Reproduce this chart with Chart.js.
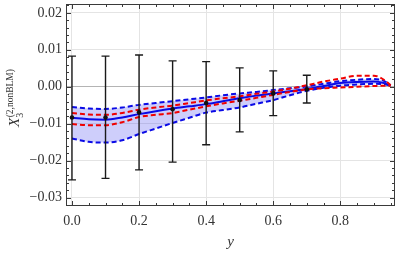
<!DOCTYPE html>
<html>
<head>
<meta charset="utf-8">
<script src="https://cdn.jsdelivr.net/npm/chart.js@4"></script>
<style>
html,body{margin:0;padding:0;background:#fff;}
canvas{display:block;}
</style>
</head>
<body>
<canvas id="c" width="399" height="256"></canvas>
<script>
// ---- data ----
const curveX      = [0, 0.05, 0.1, 0.15, 0.2, 0.25, 0.3, 0.35, 0.4, 0.45, 0.5, 0.55, 0.6, 0.65, 0.7, 0.75, 0.8, 0.85, 0.9, 0.93, 0.95];
const blueCentral = [-0.0084,-0.0088,-0.0089,-0.0083,-0.0074,-0.0066,-0.0059,-0.0053,-0.0047,-0.0039,-0.0031,-0.0024,-0.0018,-0.0012,-0.0006,0.0002,0.0010,0.0013,0.0014,0.0010,0.0003];
const blueUpper   = [-0.0055,-0.0059,-0.0060,-0.0056,-0.0049,-0.0044,-0.0039,-0.0034,-0.0029,-0.0023,-0.0018,-0.0014,-0.0009,-0.0004,0.0001,0.0008,0.0015,0.0019,0.0021,0.0016,0.0004];
const blueLower   = [-0.0140,-0.0149,-0.0151,-0.0145,-0.0128,-0.0113,-0.0098,-0.0084,-0.0070,-0.0063,-0.0056,-0.0046,-0.0036,-0.0023,-0.0011,-0.0003,0.0003,0.0006,0.0008,0.0007,0.0003];
const redUpper    = [-0.0071,-0.0075,-0.0076,-0.0071,-0.0062,-0.0056,-0.0051,-0.0044,-0.0037,-0.0031,-0.0026,-0.0019,-0.0013,-0.0005,0.0004,0.0014,0.0022,0.0030,0.0030,0.0019,0.0004];
const redLower    = [-0.0101,-0.0104,-0.0104,-0.0096,-0.0082,-0.0076,-0.0071,-0.0062,-0.0053,-0.0045,-0.0038,-0.0030,-0.0022,-0.0014,-0.0007,-0.0004,-0.0002,0.0000,0.0002,0.0003,0.0003];

const pointX    = [0, 0.1, 0.2, 0.3, 0.4, 0.5, 0.6, 0.7];
const pointY    = [-0.0083,-0.0083,-0.0069,-0.0061,-0.0044,-0.0036,-0.0018,-0.0007];
const errLow    = [-0.0252,-0.0248,-0.0225,-0.0204,-0.0157,-0.0122,-0.0078,-0.0044];
const errHigh   = [0.0083,0.0083,0.0086,0.0070,0.0068,0.0051,0.0043,0.0031];

const xMajorTicks = [0, 0.2, 0.4, 0.6, 0.8];
const yMajorTicks = [-0.03, -0.02, -0.01, 0.00, 0.01, 0.02];
const yTitleMain = 'X', yTitleSub = '3', yTitleSup = '(2,nonBLM)';
const xTitle = 'y';

const toXY = (xs, ys) => xs.map((x, i) => ({x, y: ys[i]}));
const SERIF = '"Liberation Serif","DejaVu Serif",serif';
const isMult = (v, s) => Math.abs(v / s - Math.round(v / s)) < 1e-6;

const lineBase = {type:'line', pointRadius:0, borderWidth:2, cubicInterpolationMode:'monotone', fill:false};

const errorBars = {
  id:'errorBars',
  afterDatasetDraw(chart, args){
    if (args.index !== 1) return;
    const {ctx, scales:{x, y}} = chart;
    ctx.save();
    ctx.strokeStyle = '#1a1a1a';
    ctx.lineWidth = 1.4;
    pointX.forEach((px, i) => {
      const X = x.getPixelForValue(px);
      const y1 = y.getPixelForValue(errLow[i]);
      const y2 = y.getPixelForValue(errHigh[i]);
      ctx.beginPath();
      ctx.moveTo(X, y1); ctx.lineTo(X, y2);
      ctx.moveTo(X - 4, y1); ctx.lineTo(X + 4, y1);
      ctx.moveTo(X - 4, y2); ctx.lineTo(X + 4, y2);
      ctx.stroke();
    });
    ctx.restore();
  }
};

const frame = {
  id:'frame',
  afterDraw(chart){
    const {ctx, chartArea:a, scales:{x, y}} = chart;
    ctx.save();
    ctx.strokeStyle = '#3a3a3a';
    ctx.lineWidth = 1;
    ctx.strokeRect(Math.round(a.left) + 0.5, Math.round(a.top) + 0.5, Math.round(a.right - a.left) - 1, Math.round(a.bottom - a.top) - 1);
    ctx.beginPath();
    x.ticks.forEach(t => {
      const X = Math.round(x.getPixelForValue(t.value)) + 0.5;
      const L = isMult(t.value, 0.2) ? 5 : 3;
      ctx.moveTo(X, a.bottom); ctx.lineTo(X, a.bottom - L);
      ctx.moveTo(X, a.top); ctx.lineTo(X, a.top + L);
    });
    y.ticks.forEach(t => {
      const Y = Math.round(y.getPixelForValue(t.value)) + 0.5;
      const L = isMult(t.value, 0.01) ? 5 : 3;
      ctx.moveTo(a.left, Y); ctx.lineTo(a.left + L, Y);
      ctx.moveTo(a.right, Y); ctx.lineTo(a.right - L, Y);
    });
    ctx.stroke();

    // axis titles
    ctx.fillStyle = '#333';
    ctx.textBaseline = 'alphabetic';
    ctx.font = 'italic 15px ' + SERIF;
    ctx.textAlign = 'center';
    ctx.fillText(xTitle, (a.left + a.right) / 2, 246);

    ctx.translate(19, 127);
    ctx.rotate(-Math.PI / 2);
    ctx.textAlign = 'left';
    ctx.font = 'italic 15px ' + SERIF;
    ctx.fillText(yTitleMain, 0, 0);
    const w = ctx.measureText(yTitleMain).width;
    ctx.font = '10px ' + SERIF;
    ctx.fillText(yTitleSub, w, 3.5);
    ctx.font = '9.5px ' + SERIF;
    ctx.fillText(yTitleSup, w + 0.5, -6);
    ctx.restore();
  }
};

new Chart(document.getElementById('c'), {
  data: {
    datasets: [
      {type:'scatter', data: toXY(pointX, pointY), pointRadius:2.3, pointBackgroundColor:'#111', pointBorderWidth:0, showLine:false},
      {...lineBase, data: toXY(curveX, redUpper), borderColor:'#f00000', borderDash:[5,3]},
      {...lineBase, data: toXY(curveX, redLower), borderColor:'#f00000', borderDash:[5,3]},
      {...lineBase, data: toXY(curveX, blueCentral), borderColor:'#0a0ae6'},
      {...lineBase, data: toXY(curveX, blueUpper), borderColor:'#0a0ae6', borderDash:[5,3]},
      {...lineBase, data: toXY(curveX, blueLower), borderColor:'#0a0ae6', borderDash:[5,3], fill:{target:4}, backgroundColor:'rgba(60,60,240,0.25)'}
    ]
  },
  options: {
    responsive:false, animation:false, devicePixelRatio:1,
    layout:{padding:{left:0, top:1, right:2, bottom:0}},
    plugins:{legend:{display:false}, tooltip:{enabled:false}},
    scales:{
      x:{
        type:'linear', min:-0.0178, max:0.963,
        border:{display:false},
        afterBuildTicks(s){
          const t = [];
          for (let v = 0; v <= 0.963; v += 0.05) t.push({value: Math.round(v * 100) / 100});
          s.ticks = t;
        },
        afterFit(s){ s.height = 50; s.paddingLeft = 0; s.paddingRight = 0; },
        grid:{drawTicks:false, lineWidth:1,
          color: c => (c.tick && xMajorTicks.some(m => Math.abs(m - c.tick.value) < 1e-6)) ? '#e4e4e4' : 'rgba(0,0,0,0)'},
        ticks:{autoSkip:false, maxRotation:0, padding:7, color:'#333', font:{family:SERIF, size:14},
          callback: v => xMajorTicks.some(m => Math.abs(m - v) < 1e-6) ? v.toFixed(1) : ''}
      },
      y:{
        type:'linear', min:-0.03227, max:0.0224,
        border:{display:false},
        afterBuildTicks(s){
          const t = [];
          for (let k = -16; k <= 11; k++) t.push({value: Math.round(k * 0.002 * 10000) / 10000});
          s.ticks = t;
        },
        afterFit(s){ s.width = 66; s.paddingTop = 0; s.paddingBottom = 0; },
        grid:{drawTicks:false, lineWidth:1,
          color: c => {
            if (!c.tick) return 'rgba(0,0,0,0)';
            const v = c.tick.value;
            if (Math.abs(v) < 1e-9) return '#b4b4b4';
            return yMajorTicks.some(m => Math.abs(m - v) < 1e-9) ? '#e4e4e4' : 'rgba(0,0,0,0)';
          }},
        ticks:{autoSkip:false, padding:4, color:'#333', font:{family:SERIF, size:14},
          callback: v => {
            if (!yMajorTicks.some(m => Math.abs(m - v) < 1e-9)) return '';
            return (v < -1e-9 ? '\u2212' : '') + Math.abs(v).toFixed(2);
          }}
      }
    }
  },
  plugins:[errorBars, frame]
});
</script>
</body>
</html>
